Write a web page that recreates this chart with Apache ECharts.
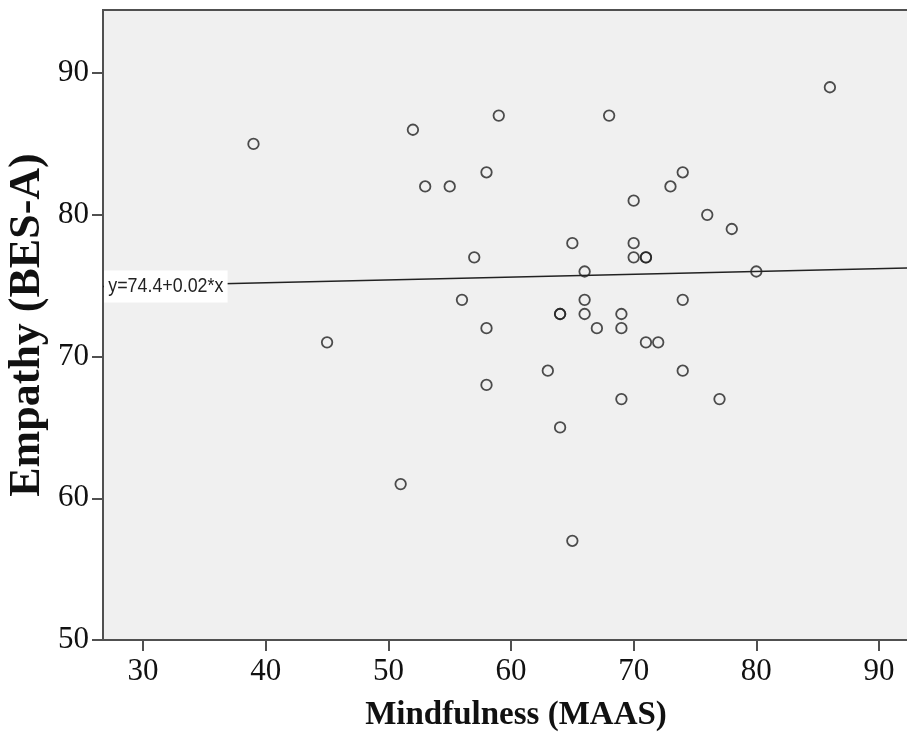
<!DOCTYPE html>
<html>
<head>
<meta charset="utf-8">
<script src="https://cdn.jsdelivr.net/npm/echarts@6/dist/echarts.min.js"></script>
<style>
  html, body { margin: 0; padding: 0; background: #ffffff; }
  #chart { width: 907px; height: 740px; }
</style>
</head>
<body>
<div id="chart"></div>
<script>
// Mindfulness (MAAS) vs Empathy (BES-A), one entry per participant
const mindfulness = [39, 52, 59, 58, 53, 55, 57, 56, 86, 68, 74, 73, 70, 76, 78, 65, 70, 70, 71, 71, 66,
                     80, 66, 74, 45, 58, 58, 64, 64, 66, 67, 63, 64, 51, 65, 69, 69, 71, 72, 74, 69, 77];
const empathy     = [85, 86, 87, 83, 82, 82, 77, 74, 89, 87, 83, 82, 81, 80, 79, 78, 78, 77, 77, 77, 76,
                     76, 74, 74, 71, 72, 68, 73, 73, 73, 72, 69, 65, 61, 57, 73, 72, 71, 71, 69, 67, 67];

const xTicks = [30, 40, 50, 60, 70, 80, 90];
const yTicks = [50, 60, 70, 80, 90];

// Linear fit
const fitIntercept = 74.4;
const fitSlope = 0.02;
const fitLabel = 'y=74.4+0.02*x';

const xRange = [26.73, 92.45];
const yRange = [50, 94.45];

const points = mindfulness.map((m, i) => [m, empathy[i]]);
const fitLine = xRange.map(x => [x, fitIntercept + fitSlope * x]);

const serif = "'Liberation Serif', 'Times New Roman', serif";
const axisColor = '#505050';

const chart = echarts.init(document.getElementById('chart'), null, { renderer: 'canvas' });

chart.setOption({
  backgroundColor: '#ffffff',
  animation: false,
  grid: {
    left: 103, right: -2, top: 10, bottom: 100,
    outerBoundsMode: 'none',
    containLabel: false,
    show: true,
    backgroundColor: '#f0f0f0',
    borderColor: axisColor,
    borderWidth: 2
  },
  xAxis: {
    type: 'value',
    min: xRange[0], max: xRange[1],
    name: 'Mindfulness (MAAS)',
    nameLocation: 'middle',
    nameGap: 59,
    nameMoveOverlap: false,
    nameTextStyle: { fontFamily: serif, fontWeight: 'bold', fontSize: 33, color: '#111', padding: [0, 0, 0, 20] },
    axisLine: { show: true, onZero: false, lineStyle: { color: axisColor, width: 2 } },
    axisTick: { show: true, length: 11, customValues: xTicks, lineStyle: { color: axisColor, width: 2 } },
    axisLabel: { customValues: xTicks, margin: 16, fontFamily: serif, fontSize: 31, color: '#111' },
    splitLine: { show: false }
  },
  yAxis: {
    type: 'value',
    min: yRange[0], max: yRange[1],
    name: 'Empathy (BES-A)',
    nameLocation: 'middle',
    nameGap: 53,
    nameMoveOverlap: false,
    nameRotate: 90,
    nameTextStyle: { fontFamily: serif, fontWeight: 'bold', fontSize: 44, color: '#111' },
    axisLine: { show: true, onZero: false, lineStyle: { color: axisColor, width: 2 } },
    axisTick: { show: true, length: 11, customValues: yTicks, lineStyle: { color: axisColor, width: 2 } },
    axisLabel: { customValues: yTicks, margin: 14, fontFamily: serif, fontSize: 31, color: '#111' },
    splitLine: { show: false }
  },
  series: [
    {
      type: 'line',
      data: fitLine,
      symbol: 'none',
      silent: true,
      lineStyle: { color: '#222', width: 1.5 },
      z: 2
    },
    {
      type: 'scatter',
      data: points,
      symbol: 'circle',
      symbolSize: 10.5,
      itemStyle: { color: 'rgba(0,0,0,0)', borderColor: '#222', borderWidth: 1.8 },
      z: 3
    }
  ]
});

// Equation tag sitting on the fit line at the left edge of the plot
const leftEnd = chart.convertToPixel({ gridIndex: 0 }, fitLine[0]);
chart.setOption({
  graphic: [{
    type: 'text',
    x: leftEnd[0] + 1,
    y: leftEnd[1],
    scaleX: 0.85,
    z: 10,
    style: {
      text: fitLabel,
      fontFamily: "'Liberation Sans', Arial, sans-serif",
      fontSize: 21,
      fill: '#222',
      backgroundColor: '#ffffff',
      padding: [5.5, 5, 5.5, 5],
      verticalAlign: 'middle',
      align: 'left'
    }
  }]
});
</script>
</body>
</html>
